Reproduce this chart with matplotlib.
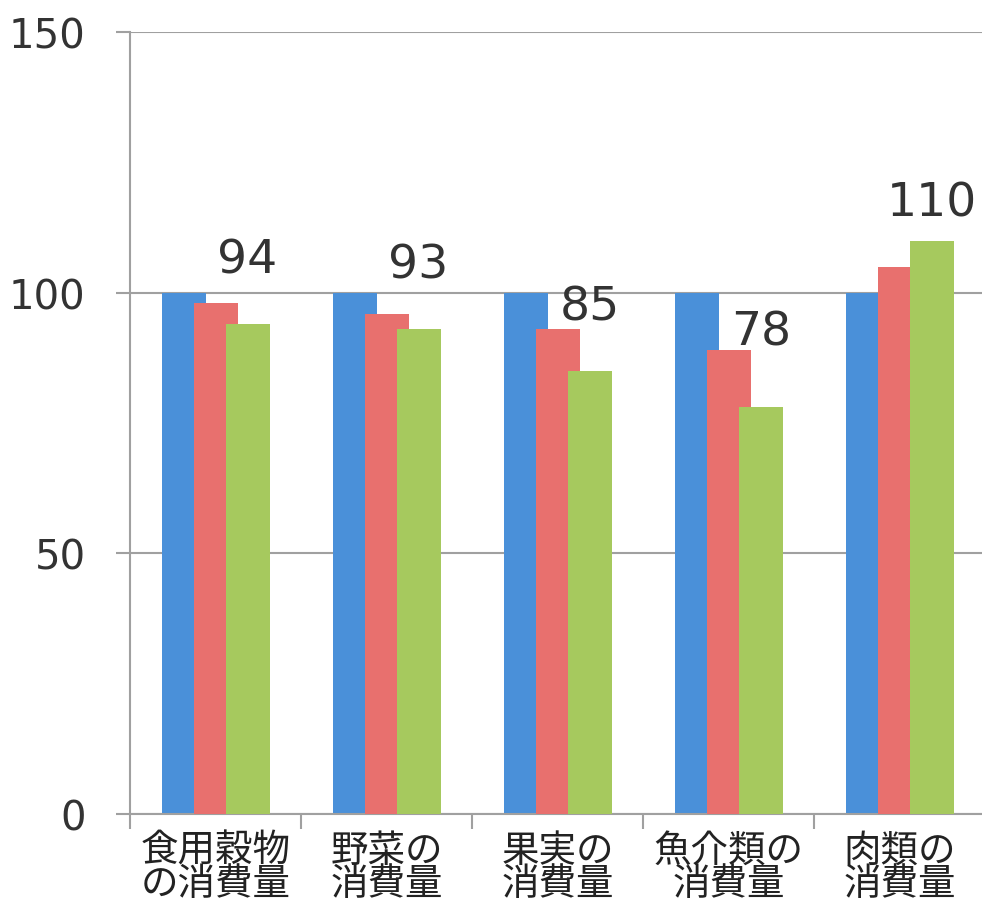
import matplotlib
matplotlib.use("Agg")
import matplotlib.pyplot as plt
import numpy as np

plt.rcParams['font.family'] = ['Noto Sans CJK JP', 'DejaVu Sans']

categories = ['食用穀物\nの消費量', '野菜の\n消費量', '果実の\n消費量', '魚介類の\n消費量', '肉類の\n消費量']
blue_vals = [100, 100, 100, 100, 100]
red_vals = [98, 96, 93, 89, 105]
green_vals = [94, 93, 85, 78, 110]
green_labels = ['94', '93', '85', '78', '110']
label_offsets = [46, 46, 46, 54, 27]  # points above bar top

yticks = [0, 50, 100, 150]

col_blue = '#4a90d9'
col_red = '#e8706e'
col_green = '#a6c95e'
grid_col = '#a0a0a0'
text_col = '#333333'

fig = plt.figure(figsize=(9.82, 9.04), dpi=100)
ax = fig.add_axes([0.1324, 0.0985, 0.871, 0.865])

x = np.arange(len(categories))
w = 0.257
step = 0.187
ax.bar(x - step, blue_vals, width=w, color=col_blue, zorder=2)
ax.bar(x, red_vals, width=w, color=col_red, zorder=3)
bars = ax.bar(x + step, green_vals, width=w, color=col_green, zorder=4)

for b, lab, off in zip(bars, green_labels, label_offsets):
    ax.annotate(lab, (b.get_x() + b.get_width() / 2, b.get_height()),
                xytext=(0, off), textcoords='offset points',
                ha='center', va='center', fontsize=34, color=text_col,
                family='DejaVu Sans', zorder=5)

ax.set_xlim(-0.5, len(categories) - 0.5)
ax.set_ylim(0, 150)
ax.set_yticks(yticks)
ax.set_yticklabels([str(v) for v in yticks], family='DejaVu Sans')
ax.tick_params(axis='y', length=10, width=1.5, color=grid_col, pad=22,
               labelsize=29, labelcolor=text_col)
ax.yaxis.grid(True, color=grid_col, linewidth=1.5, zorder=0)

ax.set_xticks(x)
ax.set_xticklabels(categories, linespacing=0.8)
ax.tick_params(axis='x', which='major', length=0, pad=12, labelsize=27,
               labelcolor='#222222')
ax.set_xticks(np.arange(-0.5, len(categories), 1.0), minor=True)
ax.tick_params(axis='x', which='minor', length=11, width=1.5, color=grid_col)

for s in ['top', 'right']:
    ax.spines[s].set_visible(False)
for s in ['left', 'bottom']:
    ax.spines[s].set_color(grid_col)
    ax.spines[s].set_linewidth(1.5)

fig.savefig('out.png', dpi=100, facecolor='white')
